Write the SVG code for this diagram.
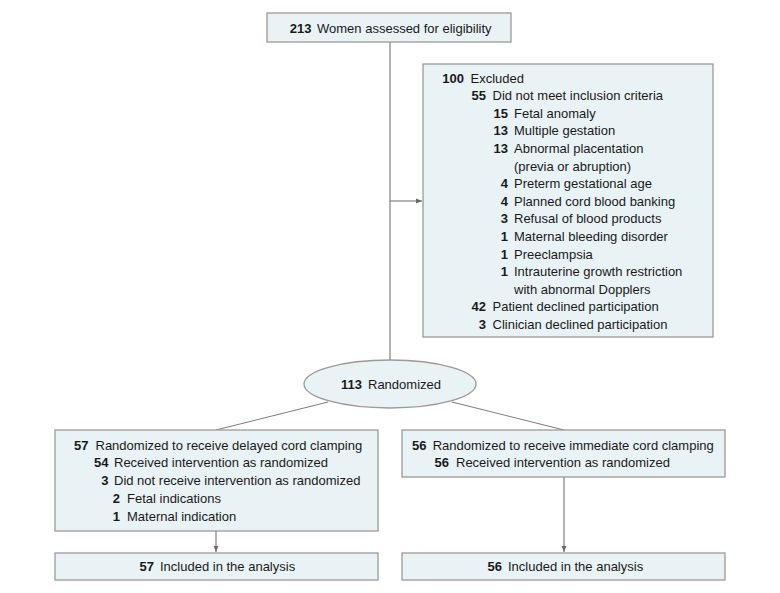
<svg xmlns="http://www.w3.org/2000/svg" width="780" height="593" viewBox="0 0 780 593">
<style>
.box{fill:#e9f2f4;stroke:#9a9a9a;stroke-width:1.3}
.ln{stroke:#808080;stroke-width:1.2;fill:none}
text{font-family:"Liberation Sans",Arial,sans-serif;font-size:13px;fill:#1a1a1a}
.n{font-weight:bold;text-anchor:end}
</style>
<defs>
<marker id="ah" viewBox="0 0 10 10" refX="10" refY="5" markerWidth="6" markerHeight="6" markerUnits="userSpaceOnUse" orient="auto">
<path d="M0,1 L10,5 L0,9 Z" fill="#6a6a6a"/>
</marker>
</defs>
<rect width="780" height="593" fill="#ffffff"/>
<g id="connectors">
<line class="ln" x1="390" y1="42" x2="390" y2="360"/>
<line class="ln" x1="390" y1="201" x2="422" y2="201" marker-end="url(#ah)"/>
<line class="ln" x1="328" y1="402" x2="216" y2="430"/>
<line class="ln" x1="452" y1="402" x2="564" y2="430"/>
<line class="ln" x1="216" y1="531" x2="216" y2="552" marker-end="url(#ah)"/>
<line class="ln" x1="564" y1="477" x2="564" y2="552" marker-end="url(#ah)"/>
</g>
<g id="assessed">
<rect class="box" x="267" y="13" width="244" height="29"/>
<text class="n" x="311.5" y="33">213</text>
<text x="317" y="33">Women assessed for eligibility</text>
</g>
<g id="excluded">
<rect class="box" x="423" y="64" width="290" height="273"/>
<text class="n" x="464" y="82.5">100</text><text x="470.5" y="82.5">Excluded</text>
<text class="n" x="486" y="100.1">55</text><text x="492.5" y="100.1">Did not meet inclusion criteria</text>
<text class="n" x="508" y="117.7">15</text><text x="514" y="117.7">Fetal anomaly</text>
<text class="n" x="508" y="135.3">13</text><text x="514" y="135.3">Multiple gestation</text>
<text class="n" x="508" y="152.9">13</text><text x="514" y="152.9">Abnormal placentation</text>
<text x="514" y="170.5">(previa or abruption)</text>
<text class="n" x="508" y="188.1">4</text><text x="514" y="188.1">Preterm gestational age</text>
<text class="n" x="508" y="205.7">4</text><text x="514" y="205.7">Planned cord blood banking</text>
<text class="n" x="508" y="223.3">3</text><text x="514" y="223.3">Refusal of blood products</text>
<text class="n" x="508" y="240.9">1</text><text x="514" y="240.9">Maternal bleeding disorder</text>
<text class="n" x="508" y="258.5">1</text><text x="514" y="258.5">Preeclampsia</text>
<text class="n" x="508" y="276.1">1</text><text x="514" y="276.1">Intrauterine growth restriction</text>
<text x="514" y="293.7">with abnormal Dopplers</text>
<text class="n" x="486" y="311.3">42</text><text x="492.5" y="311.3">Patient declined participation</text>
<text class="n" x="486" y="328.9">3</text><text x="492.5" y="328.9">Clinician declined participation</text>
</g>
<g id="randomized">
<ellipse class="box" cx="390" cy="384" rx="86" ry="24"/>
<text class="n" x="362" y="389">113</text>
<text x="368" y="389">Randomized</text>
</g>
<g id="delayed">
<rect class="box" x="55" y="430" width="323" height="101"/>
<text class="n" x="88.5" y="449.5">57</text><text x="95.5" y="449.5">Randomized to receive delayed cord clamping</text>
<text class="n" x="108.5" y="467.3">54</text><text x="114" y="467.3">Received intervention as randomized</text>
<text class="n" x="108.5" y="485.1">3</text><text x="114" y="485.1">Did not receive intervention as randomized</text>
<text class="n" x="120" y="502.9">2</text><text x="127" y="502.9">Fetal indications</text>
<text class="n" x="120" y="520.7">1</text><text x="127" y="520.7">Maternal indication</text>
</g>
<g id="immediate">
<rect class="box" x="402" y="430" width="323" height="47"/>
<text class="n" x="426.5" y="449.5">56</text><text x="432.7" y="449.5">Randomized to receive immediate cord clamping</text>
<text class="n" x="449" y="467.3">56</text><text x="456" y="467.3">Received intervention as randomized</text>
</g>
<g id="analysis-delayed">
<rect class="box" x="55" y="553" width="323" height="27"/>
<text class="n" x="154" y="571">57</text><text x="160" y="571">Included in the analysis</text>
</g>
<g id="analysis-immediate">
<rect class="box" x="402" y="553" width="323" height="27"/>
<text class="n" x="502" y="571">56</text><text x="508" y="571">Included in the analysis</text>
</g>
</svg>
